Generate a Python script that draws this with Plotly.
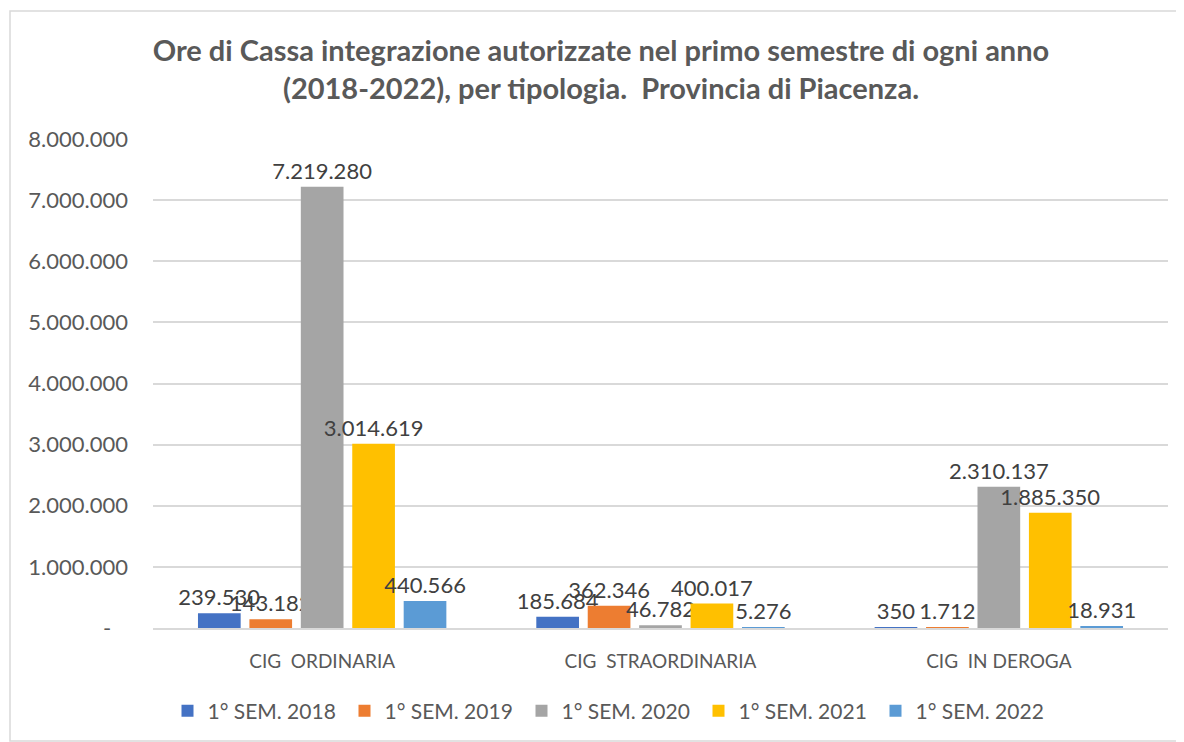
import plotly.graph_objects as go

categories = ["CIG  ORDINARIA", "CIG  STRAORDINARIA", "CIG  IN DEROGA"]
series_names = ["1° SEM. 2018", "1° SEM. 2019", "1° SEM. 2020", "1° SEM. 2021", "1° SEM. 2022"]
sem_2018 = [239530, 185684, 350]
sem_2019 = [143182, 362346, 1712]
sem_2020 = [7219280, 46782, 2310137]
sem_2021 = [3014619, 400017, 1885350]
sem_2022 = [440566, 5276, 18931]
series_values = [sem_2018, sem_2019, sem_2020, sem_2021, sem_2022]
colors = ["#4472C4", "#ED7D31", "#A5A5A5", "#FFC000", "#5B9BD5"]

tick_vals = [0, 1000000, 2000000, 3000000, 4000000, 5000000, 6000000, 7000000, 8000000]
tick_text = ["-\u00a0\u00a0\u00a0", "1.000.000", "2.000.000", "3.000.000", "4.000.000",
             "5.000.000", "6.000.000", "7.000.000", "8.000.000"]

def it_fmt(v):
    return f"{v:,}".replace(",", ".")

# page body adds an 8px offset; figure sized to fit the window
OFF = 8
W, H = 1176, 734
L, R, T, B = 145, 16, 131, 114

fig = go.Figure()
for name, vals, col in zip(series_names, series_values, colors):
    fig.add_trace(go.Bar(
        name=name, x=categories, y=vals, marker_color=col, marker_line_width=0,
        text=[it_fmt(v) for v in vals], textposition="outside", constraintext="none",
        cliponaxis=False,
        textfont=dict(family="Lato, Open Sans, sans-serif", size=22, color="#404040"),
    ))

pw = W - L - R
ph = H - T - B
def px(x):
    return (x - OFF - L) / pw
def py(y):
    return (H - B - (y - OFF)) / ph

fig.update_layout(
    width=W, height=H,
    margin=dict(l=L, r=R, t=T, b=B, autoexpand=False),
    paper_bgcolor="white", plot_bgcolor="white",
    barmode="group", bargap=0.24, bargroupgap=0.17,
    title=dict(
        text="Ore di Cassa integrazione autorizzate nel primo semestre di ogni anno<br>(2018-2022), per tipologia.  Provincia di Piacenza.",
        x=(601 - OFF) / W, xanchor="center", y=1 - (61 - OFF) / H, yanchor="middle",
        font=dict(family="Lato, Open Sans, sans-serif", size=29, color="#595959", weight="bold"),
    ),
    font=dict(family="Lato, Open Sans, sans-serif", color="#595959"),
    legend=dict(
        orientation="h", x=px(610), xanchor="center", y=py(711), yanchor="middle",
        font=dict(size=21, color="#595959"), entrywidth=132, itemwidth=30,
        traceorder="normal",
    ),
    showlegend=True,
    shapes=[dict(type="rect", xref="paper", yref="paper",
                 x0=px(10), x1=px(1200), y0=py(741), y1=py(11),
                 line=dict(color="#D9D9D9", width=1.5), layer="below")],
)
fig.update_yaxes(
    range=[0, 8000000], tickvals=tick_vals, ticktext=tick_text,
    showgrid=True, gridcolor="#D9D9D9", gridwidth=1.5, zeroline=False,
    tickfont=dict(size=22, color="#595959"), ticklabelstandoff=24,
    showline=False,
)
fig.update_xaxes(
    showline=True, linecolor="#D9D9D9", linewidth=1.5,
    tickfont=dict(size=19, color="#595959"), ticklabelstandoff=15,
)

fig.write_html("out.html")
